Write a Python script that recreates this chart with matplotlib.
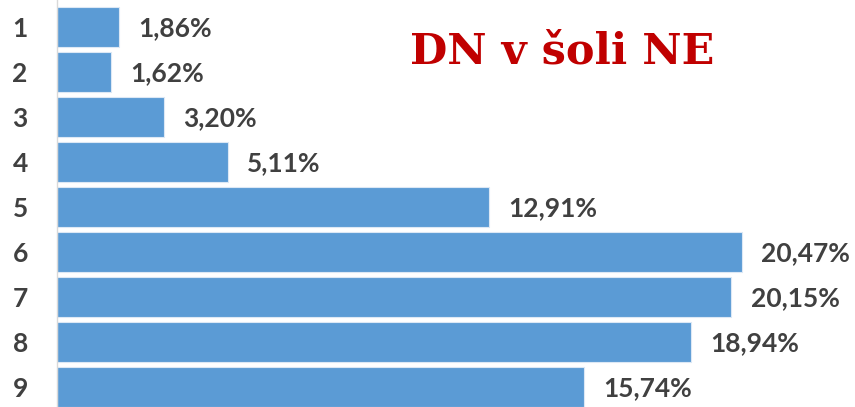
import matplotlib
matplotlib.use("Agg")
import matplotlib.pyplot as plt

categories = ["1", "2", "3", "4", "5", "6", "7", "8", "9"]
values = [1.86, 1.62, 3.20, 5.11, 12.91, 20.47, 20.15, 18.94, 15.74]
labels = ["1,86%", "1,62%", "3,20%", "5,11%", "12,91%", "20,47%", "20,15%", "18,94%", "15,74%"]
title = "DN v šoli NE"

fig = plt.figure(figsize=(8.55, 4.07), dpi=100)
ax = fig.add_axes([57/855, 0, 1 - 57/855, 1])

pos = list(range(1, len(categories) + 1))
ax.barh(pos, values, height=0.88, color="#5B9BD5", edgecolor="#DCE8F5", linewidth=0.8)

ax.set_ylim(9.44, 0.40)
ax.set_xlim(0, 23.85)
ax.set_yticks(pos)
ax.set_yticklabels(categories, fontfamily="Lato", fontweight="bold", fontsize=19, color="#404040")
ax.tick_params(axis="y", length=0, pad=21)
ax.set_xticks([])
for s in ["top", "right", "bottom"]:
    ax.spines[s].set_visible(False)
ax.spines["left"].set_color("#D9D9D9")
ax.spines["left"].set_linewidth(1)

for p, v, lab in zip(pos, values, labels):
    ax.annotate(lab, (v, p), xytext=(14, -1), textcoords="offset points",
                ha="left", va="center", fontfamily="Lato", fontweight="bold",
                fontsize=19, color="#404040")

fig.text(562/855, 1 - 51/407, title, ha="center", va="center",
         fontfamily="DejaVu Serif", fontweight="bold", fontsize=31, color="#C00000")

fig.savefig("out.png", dpi=100)
